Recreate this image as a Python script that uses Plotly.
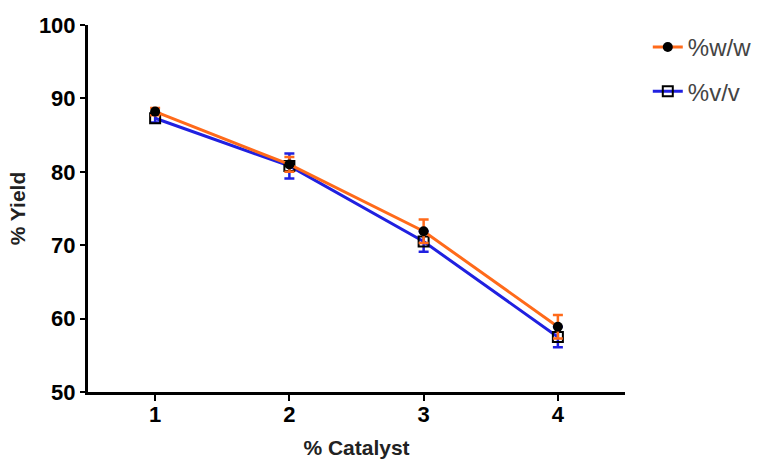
import plotly.graph_objects as go

catalyst = [1, 2, 3, 4]
yield_ww = [88.2, 81.0, 71.9, 58.9]
err_ww = [0.5, 1.0, 1.6, 1.6]
yield_vv = [87.3, 80.8, 70.5, 57.5]
err_vv = [0.6, 1.7, 1.4, 1.4]
y_ticks = [50, 60, 70, 80, 90, 100]
x_ticks = [1, 2, 3, 4]

orange = "#FF6A1A"
blue = "#2020E0"

fig = go.Figure()
fig.add_trace(go.Scatter(
    x=catalyst, y=yield_vv, name="%v/v", mode="lines+markers",
    line=dict(color=blue, width=3),
    marker=dict(symbol="square-open", size=10, color="black", line=dict(width=2, color="#222")),
    error_y=dict(type="data", array=err_vv, color=blue, thickness=2.5, width=5),
    legendrank=2, legendgroup="vv",
))
fig.add_trace(go.Scatter(
    x=catalyst, y=yield_ww, name="%w/w", mode="lines+markers",
    line=dict(color=orange, width=3),
    marker=dict(symbol="circle", size=10, color="black"),
    error_y=dict(type="data", array=err_ww, color=orange, thickness=2.5, width=5),
    legendrank=1, legendgroup="ww",
))

axis_font = dict(family="Liberation Sans, Arial, sans-serif", size=22, color="black", weight="bold")
title_font = dict(family="Liberation Sans, Arial, sans-serif", size=21, color="#222", weight="bold")

fig.update_layout(
    width=763, height=462,
    margin=dict(l=88, r=138, t=25, b=70, autoexpand=False),
    plot_bgcolor="white", paper_bgcolor="white",
    showlegend=True,
    legend=dict(x=0.849, y=0.946, xref="container", yref="container",
                xanchor="left", yanchor="top",
                font=dict(family="Liberation Sans, Arial, sans-serif", size=24, color="#444"),
                traceorder="grouped", tracegroupgap=10),
    xaxis=dict(range=[0.5, 4.5], tickvals=x_ticks, showgrid=False, zeroline=False,
               showline=True, linecolor="black", linewidth=3, ticks="outside",
               tickwidth=2, ticklen=6, tickcolor="black", tickfont=axis_font,
               automargin=False, ticklabelstandoff=-5,
               title=dict(text="% Catalyst", font=title_font, standoff=14)),
    yaxis=dict(range=[50, 100], tickvals=y_ticks, showgrid=False, zeroline=False,
               showline=True, linecolor="black", linewidth=3, ticks="outside",
               tickwidth=2, ticklen=5, tickcolor="black", tickfont=axis_font,
               automargin=False,
               title=dict(text="% Yield", font=title_font, standoff=8)),
)

fig.write_html("out.html")
